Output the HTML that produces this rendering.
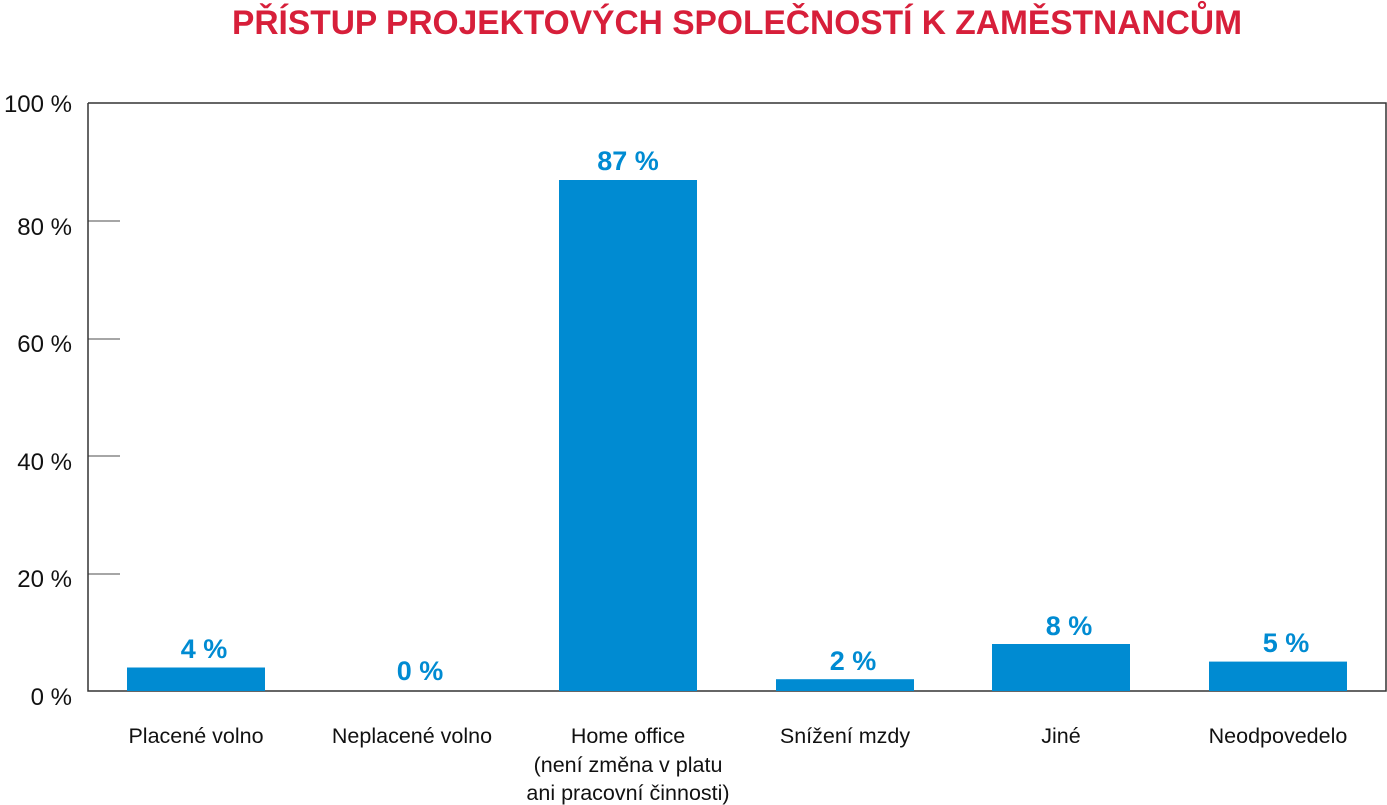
<!DOCTYPE html>
<html><head><meta charset="utf-8"><style>
body{margin:0;background:#fff;width:1387px;height:805px;overflow:hidden}
svg{display:block;font-family:"Liberation Sans",sans-serif}
</style></head><body>
<svg width="1387" height="805" viewBox="0 0 1387 805">
<text x="737" y="34" text-anchor="middle" font-size="34" font-weight="bold" fill="#d71f3a" textLength="1010" lengthAdjust="spacingAndGlyphs">PŘÍSTUP PROJEKTOVÝCH SPOLEČNOSTÍ K ZAMĚSTNANCŮM</text>
<g stroke="#888" stroke-width="1.5">
<line x1="88" y1="221" x2="120" y2="221"/><line x1="88" y1="339" x2="120" y2="339"/>
<line x1="88" y1="456" x2="120" y2="456"/><line x1="88" y1="574" x2="120" y2="574"/>
</g>
<g stroke="#333" stroke-width="1.5" fill="none">
<polyline points="88,103 88,691 1386,691 1386,103 88,103"/>
</g>
<g font-size="24" fill="#111" text-anchor="end">
<text x="72" y="112">100 %</text><text x="72" y="235">80 %</text><text x="72" y="352">60 %</text>
<text x="72" y="470">40 %</text><text x="72" y="587">20 %</text><text x="72" y="705">0 %</text>
</g>
<g fill="#008bd2">
<rect x="127" y="667.5" width="138" height="23.5"/>
<rect x="559" y="180" width="138" height="511"/>
<rect x="776" y="679.2" width="138" height="11.8"/>
<rect x="992" y="644" width="138" height="47"/>
<rect x="1209" y="661.6" width="138" height="29.4"/>
</g>
<g font-size="27" font-weight="bold" fill="#008bd2" text-anchor="middle">
<text x="204" y="658">4 %</text><text x="420" y="680">0 %</text><text x="628" y="170">87 %</text>
<text x="853" y="670">2 %</text><text x="1069" y="635">8 %</text><text x="1286" y="652">5 %</text>
</g>
<g font-size="21.5" fill="#111" text-anchor="middle">
<text x="196" y="743">Placené volno</text><text x="412" y="743">Neplacené volno</text>
<text x="628" y="743">Home office</text><text x="628" y="772">(není změna v platu</text><text x="628" y="800">ani pracovní činnosti)</text>
<text x="845" y="743">Snížení mzdy</text><text x="1061" y="743">Jiné</text><text x="1278" y="743">Neodpovedelo</text>
</g>
</svg>
</body></html>
